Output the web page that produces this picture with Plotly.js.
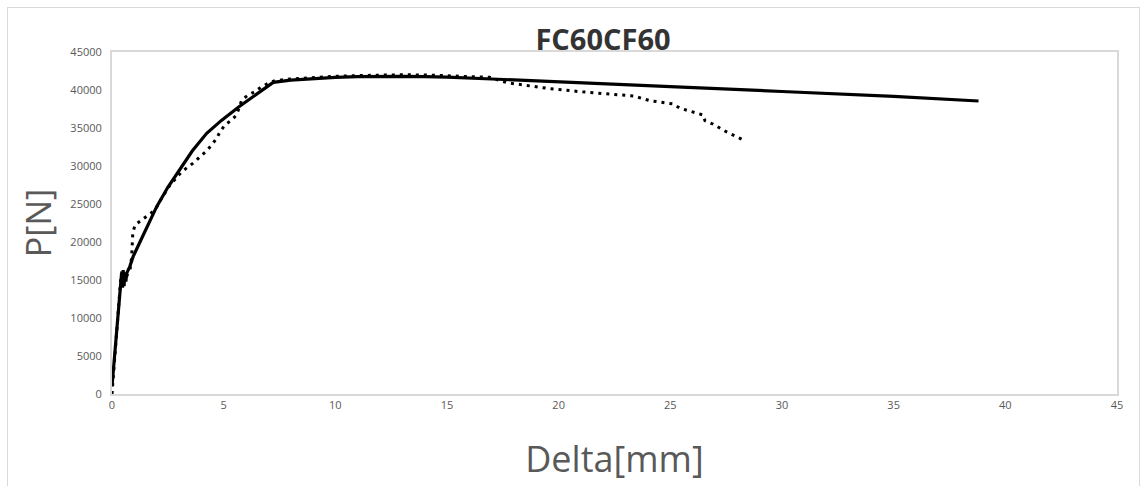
<!DOCTYPE html>
<html>
<head>
<meta charset="utf-8">
<script src="https://cdn.plot.ly/plotly-3.0.1.min.js"></script>
<style>
  html, body { margin: 0; padding: 0; background: #fff; overflow: hidden; }
  #wrap { position: relative; width: 1144px; height: 486px; }
  #chart { position: absolute; left: 0; top: 0; width: 1144px; height: 486px; }
  #frame { position: absolute; left: 7px; top: 7px; width: 1131px; height: 500px; border: 1px solid #d9d9d9; pointer-events: none; }
</style>
</head>
<body>
<div id="wrap">
  <div id="chart"></div>
  <div id="frame"></div>
</div>
<script>
// Model curve (solid)
const modelDelta = [0, 0.1, 0.2, 0.3, 0.38, 0.43, 0.47, 0.5, 0.54, 0.58, 0.62, 0.66, 0.8, 0.95, 1.3, 1.61, 2.0, 2.5, 3.04, 3.6, 4.24, 4.9, 5.73, 6.5, 7.22, 8, 9, 10, 11, 12, 13, 14, 15, 17, 20, 25, 30, 35, 38.8];
const modelP = [1000, 4500, 8000, 11500, 14200, 15900, 14000, 16300, 14200, 16000, 14800, 15900, 16800, 18100, 20300, 22300, 24650, 27200, 29500, 32000, 34300, 36000, 37900, 39500, 41000, 41300, 41500, 41650, 41750, 41800, 41800, 41750, 41700, 41450, 41100, 40450, 39800, 39150, 38550];

// Test curve (dotted)
const testDelta = [0, 0.05, 0.1, 0.15, 0.2, 0.25, 0.3, 0.35, 0.4, 0.45, 0.42, 0.5, 0.48, 0.55, 0.6, 0.7, 0.8, 0.88, 0.9, 0.93, 1.03, 1.33, 1.63, 1.93, 2.22, 2.6, 3.12, 3.42, 3.72, 3.94, 4.24, 4.46, 4.69, 4.84, 5.06, 5.36, 5.58, 5.81, 6.1, 6.4, 6.7, 7.0, 7.3, 8, 9, 10, 11, 12, 13, 14, 15, 16, 16.9, 17.67, 18.4, 19.46, 20.95, 22.44, 23.34, 24.08, 25.13, 25.43, 26.47, 26.55, 26.9, 27.5, 28.2];
const testP = [0, 2000, 4000, 6000, 8000, 10000, 12000, 14000, 15500, 16200, 14500, 15800, 14200, 16000, 15000, 15800, 16200, 18000, 19500, 21150, 22240, 22900, 23450, 24210, 25750, 27500, 29250, 29910, 30570, 31230, 32000, 32770, 33650, 34520, 35400, 36060, 36710, 38690, 39350, 39780, 40440, 40890, 41230, 41450, 41650, 41800, 41900, 41980, 42000, 41980, 41900, 41800, 41670, 40970, 40660, 40230, 39780, 39440, 39220, 38600, 38160, 37600, 36710, 35970, 35530, 34520, 33520];

const xTicks = [0, 5, 10, 15, 20, 25, 30, 35, 40, 45];
const yTicks = [0, 5000, 10000, 15000, 20000, 25000, 30000, 35000, 40000, 45000];

const traces = [
  {
    x: testDelta, y: testP, type: 'scatter', mode: 'lines',
    line: { color: '#000000', width: 3, dash: '3px,5px' },
    showlegend: false, hoverinfo: 'skip'
  },
  {
    x: modelDelta, y: modelP, type: 'scatter', mode: 'lines',
    line: { color: '#000000', width: 3.2 },
    showlegend: false, hoverinfo: 'skip'
  }
];

const FONT = 'Open Sans, Liberation Sans, sans-serif';
const tickFont = { family: FONT, size: 11, color: '#595959' };

const layout = {
  width: 1144, height: 486,
  margin: { l: 112, r: 27, t: 52, b: 92 },
  paper_bgcolor: 'rgba(0,0,0,0)',
  plot_bgcolor: '#ffffff',
  showlegend: false,
  title: {
    text: '<b>FC60CF60</b>',
    font: { family: FONT, size: 29, color: '#333333' },
    x: 603 / 1144, xanchor: 'center', xref: 'container',
    y: 1 - 40 / 486, yanchor: 'middle', yref: 'container'
  },
  xaxis: {
    range: [0, 45], tickvals: xTicks, ticktext: xTicks.map(String),
    showgrid: false, zeroline: false,
    showline: true, linecolor: '#d9d9d9', linewidth: 2, mirror: true,
    ticks: '', tickfont: tickFont,
    title: { text: 'Delta[mm]', font: { family: FONT, size: 36, color: '#595959' }, standoff: 36 }
  },
  yaxis: {
    range: [0, 45000], tickvals: yTicks, ticktext: yTicks.map(String),
    showgrid: false, zeroline: false,
    showline: true, linecolor: '#d9d9d9', linewidth: 2, mirror: true,
    ticks: '', tickfont: tickFont, ticklabelstandoff: 6,
    title: { text: 'P[N]', font: { family: FONT, size: 34, color: '#595959' }, standoff: 8 }
  }
};

Plotly.newPlot('chart', traces, layout, { displayModeBar: false, staticPlot: true });
</script>
</body>
</html>
